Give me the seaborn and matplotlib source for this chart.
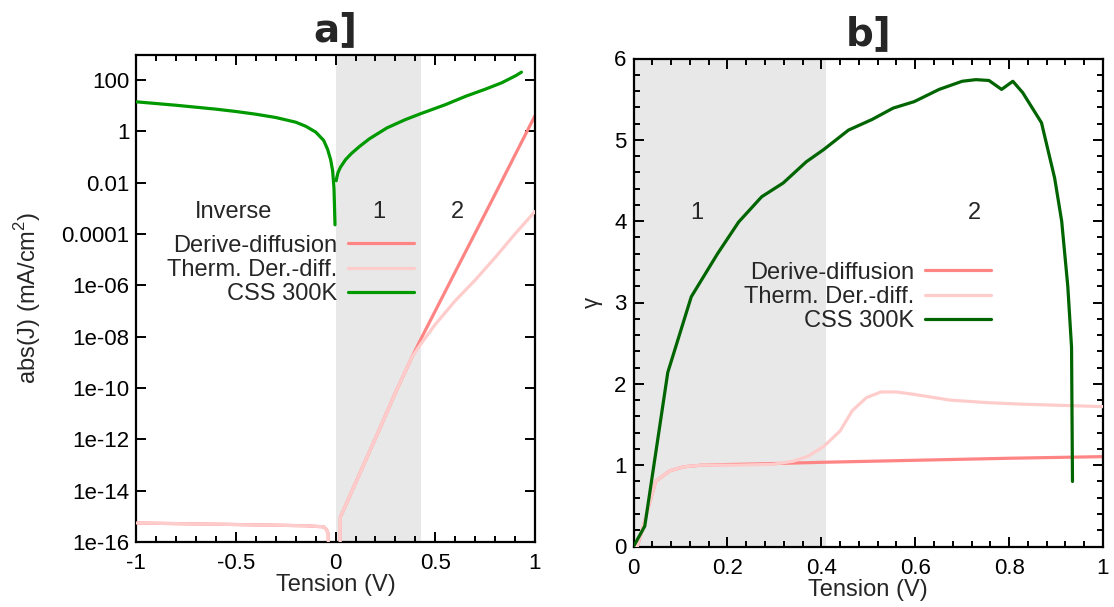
import numpy as np
import pandas as pd
import matplotlib
matplotlib.use("Agg")
import matplotlib.pyplot as plt
from matplotlib.ticker import FixedLocator, MultipleLocator, NullLocator
import seaborn as sns

# ---------------- Panel a] : abs(J) vs Tension ----------------
# Derive-diffusion (red)
a_dd_v = [-1.0, -0.5, -0.15, -0.06, -0.045, -0.037, -0.035, 0.022, 0.024, 0.1, 0.2, 0.3, 0.384, 0.434, 0.6, 0.8, 1.0]
a_dd_j = [5.5e-16, 4.8e-16, 4.3e-16, 3.9e-16, 3.0e-16, 2.0e-16, 1e-17, 1e-17, 9.3e-16,
          2.0e-14, 1.1e-12, 6.5e-11, 1.66e-9, 1.0e-8, 3.3e-6, 3.5e-3, 4.0]
# Therm. Der.-diff. (pink)
a_th_v = [-1.0, -0.5, -0.15, -0.06, -0.045, -0.037, -0.035, 0.022, 0.024, 0.1, 0.2, 0.3, 0.384, 0.43, 0.5, 0.6, 0.7, 0.8, 0.9, 1.0]
a_th_j = [5.5e-16, 4.8e-16, 4.3e-16, 3.9e-16, 3.0e-16, 2.0e-16, 1e-17, 1e-17, 9.3e-16,
          2.0e-14, 1.1e-12, 6.5e-11, 1.66e-9, 5.5e-9, 3.0e-8, 2.5e-7, 1.6e-6, 1.2e-5, 1.0e-4, 7.5e-4]
# CSS 300K (green) - reverse branch and forward branch
a_css_rev_v = [-1.0, -0.8, -0.6, -0.5, -0.4, -0.3, -0.2, -0.15, -0.1, -0.06, -0.04, -0.025, -0.015, -0.008, -0.003]
a_css_rev_j = [14.3, 10.5, 7.4, 6.0, 4.7, 3.5, 2.3, 1.6, 0.95, 0.45, 0.2, 0.08, 0.03, 0.006, 2.3e-4]
a_css_fwd_v = [0.003, 0.0056, 0.012, 0.024, 0.05, 0.08, 0.12, 0.17, 0.258, 0.35, 0.429, 0.55, 0.654, 0.75, 0.834, 0.906, 0.933]
a_css_fwd_j = [0.012, 0.0155, 0.025, 0.04, 0.08, 0.14, 0.26, 0.52, 1.38, 2.9, 5.0, 11.0, 23.7, 44.0, 79.0, 152.0, 205.0]

a_yticks = [1e-16, 1e-14, 1e-12, 1e-10, 1e-8, 1e-6, 1e-4, 1e-2, 1, 100]
a_yticklabels = ["1e-16", "1e-14", "1e-12", "1e-10", "1e-08", "1e-06", "0.0001", "0.01", "1", "100"]
a_xticks = [-1, -0.5, 0, 0.5, 1]
a_xticklabels = ["-1", "-0.5", "0", "0.5", "1"]

# ---------------- Panel b] : gamma vs Tension ----------------
b_dd_v = [0.0, 0.008, 0.016, 0.047, 0.077, 0.107, 0.145, 0.22, 0.3, 0.4, 0.6, 0.8, 1.0]
b_dd_g = [0.0, 0.0, 0.15, 0.80, 0.93, 0.98, 1.0, 1.01, 1.02, 1.035, 1.06, 1.085, 1.105]
b_th_v = [0.0, 0.008, 0.016, 0.047, 0.077, 0.107, 0.145, 0.22, 0.297, 0.341, 0.372, 0.405, 0.44,
          0.466, 0.496, 0.527, 0.56, 0.598, 0.674, 0.75, 0.826, 1.0]
b_th_g = [0.0, 0.0, 0.15, 0.80, 0.93, 0.98, 1.0, 1.0, 1.01, 1.05, 1.11, 1.23, 1.42,
          1.67, 1.83, 1.90, 1.90, 1.87, 1.80, 1.77, 1.75, 1.72]
b_css_v = [0.0, 0.024, 0.073, 0.123, 0.179, 0.224, 0.273, 0.319, 0.368, 0.405, 0.458, 0.508, 0.553,
           0.598, 0.651, 0.700, 0.729, 0.757, 0.784, 0.808, 0.829, 0.869, 0.897, 0.912, 0.925, 0.933, 0.935]
b_css_g = [0.0, 0.25, 2.14, 3.07, 3.6, 3.99, 4.30, 4.47, 4.73, 4.88, 5.12, 5.25, 5.39,
           5.47, 5.62, 5.72, 5.74, 5.73, 5.62, 5.72, 5.58, 5.21, 4.53, 4.0, 3.2, 2.45, 0.8]

b_xticks = [0, 0.2, 0.4, 0.6, 0.8, 1]
b_xticklabels = ["0", "0.2", "0.4", "0.6", "0.8", "1"]
b_yticks = [0, 1, 2, 3, 4, 5, 6]
b_yticklabels = ["0", "1", "2", "3", "4", "5", "6"]

labels = ["Derive-diffusion", "Therm. Der.-diff.", "CSS 300K"]
c_red = "#ff8585"
c_pink = "#ffcccc"
c_green = "#009900"
c_dkgreen = "#006400"
c_shade = "#e8e8e8"

sns.set_theme(style="white")
plt.rcParams["font.family"] = ["Liberation Sans", "DejaVu Sans"]
plt.rcParams["mathtext.fontset"] = "custom"
plt.rcParams["mathtext.rm"] = "Liberation Sans"

fig = plt.figure(figsize=(11.14, 6.07), dpi=100)
axa = fig.add_axes([136.4 / 1114, 1 - 542 / 607, (534.8 - 136.4) / 1114, 487.5 / 607])
axb = fig.add_axes([633.5 / 1114, 1 - 546.5 / 607, (1103 - 633.5) / 1114, 488 / 607])

lw = 2.3
fs = 16
fsl = 17

def style_axes(ax):
    for s in ax.spines.values():
        s.set_color("black")
        s.set_linewidth(1.6)
    ax.tick_params(which="both", direction="in", top=True, right=True, bottom=True, left=True,
                   colors="black", labelsize=fs, width=1.4)
    ax.tick_params(which="major", length=7)
    ax.tick_params(which="minor", length=4)
    ax.tick_params(axis="y", which="major", pad=5)
    ax.tick_params(axis="x", which="major", pad=8)
    for t in ax.get_xticklabels() + ax.get_yticklabels():
        t.set_color("black")

# ---- panel a
axa.set_yscale("log")
axa.axvspan(0, 0.43, color=c_shade, lw=0, zorder=0)
sns.lineplot(x=a_dd_v, y=a_dd_j, ax=axa, color=c_red, lw=lw, sort=False, estimator=None, zorder=2)
sns.lineplot(x=a_th_v, y=a_th_j, ax=axa, color=c_pink, lw=lw, sort=False, estimator=None, zorder=3)
sns.lineplot(x=a_css_rev_v, y=a_css_rev_j, ax=axa, color=c_green, lw=lw, sort=False, estimator=None, zorder=4)
sns.lineplot(x=a_css_fwd_v, y=a_css_fwd_j, ax=axa, color=c_green, lw=lw, sort=False, estimator=None, zorder=4)
axa.set_xlim(-1, 1)
axa.set_ylim(1e-16, 1e3)
axa.yaxis.set_major_locator(FixedLocator(a_yticks))
axa.yaxis.set_minor_locator(NullLocator())
axa.set_yticklabels(a_yticklabels)
axa.set_xticks(a_xticks)
axa.set_xticklabels(a_xticklabels)
axa.xaxis.set_minor_locator(MultipleLocator(0.1))
axa.set_xlabel("Tension (V)", fontsize=fsl, labelpad=0)
axa.set_ylabel("abs(J) (mA/cm$^2$)", fontsize=fsl, labelpad=13)
axa.set_title("a]", fontsize=28, fontweight="bold", family="DejaVu Sans", pad=10)
style_axes(axa)
axa.text(-0.51, 7e-4, "Inverse", fontsize=fsl, ha="center", va="center")
axa.text(0.217, 7e-4, "1", fontsize=fsl, ha="center", va="center")
axa.text(0.61, 7e-4, "2", fontsize=fsl, ha="center", va="center")
ha = [axa.lines[0], axa.lines[1], axa.lines[2]]
leg = axa.legend(ha, labels, loc="center right", bbox_to_anchor=(426 / 1114, 1 - 270 / 607),
                 bbox_transform=fig.transFigure, frameon=False, markerfirst=False,
                 fontsize=fsl, handlelength=2.8, handletextpad=0.45, labelspacing=0.1, borderpad=0)

# ---- panel b
axb.axvspan(0, 0.41, color=c_shade, lw=0, zorder=0)
sns.lineplot(x=b_dd_v, y=b_dd_g, ax=axb, color=c_red, lw=lw, sort=False, estimator=None, zorder=2)
sns.lineplot(x=b_th_v, y=b_th_g, ax=axb, color=c_pink, lw=lw, sort=False, estimator=None, zorder=3)
sns.lineplot(x=b_css_v, y=b_css_g, ax=axb, color=c_dkgreen, lw=lw, sort=False, estimator=None, zorder=4)
axb.set_xlim(0, 1)
axb.set_ylim(0, 6)
axb.set_xticks(b_xticks)
axb.set_xticklabels(b_xticklabels)
axb.set_yticks(b_yticks)
axb.set_yticklabels(b_yticklabels)
axb.xaxis.set_minor_locator(MultipleLocator(0.04))
axb.yaxis.set_minor_locator(MultipleLocator(0.2))
axb.set_xlabel("Tension (V)", fontsize=fsl, labelpad=0)
axb.set_ylabel("γ", fontsize=fs, labelpad=8, rotation=90)
axb.set_title("b]", fontsize=28, fontweight="bold", family="DejaVu Sans", pad=10)
style_axes(axb)
axb.text(0.134, 4.1, "1", fontsize=fsl, ha="center", va="center")
axb.text(0.727, 4.1, "2", fontsize=fsl, ha="center", va="center")
hb = [axb.lines[0], axb.lines[1], axb.lines[2]]
legb = axb.legend(hb, labels, loc="center right", bbox_to_anchor=(1003 / 1114, 1 - 297 / 607),
                  bbox_transform=fig.transFigure, frameon=False, markerfirst=False,
                  fontsize=fsl, handlelength=2.8, handletextpad=0.45, labelspacing=0.1, borderpad=0)

fig.savefig("out.png", dpi=100)
